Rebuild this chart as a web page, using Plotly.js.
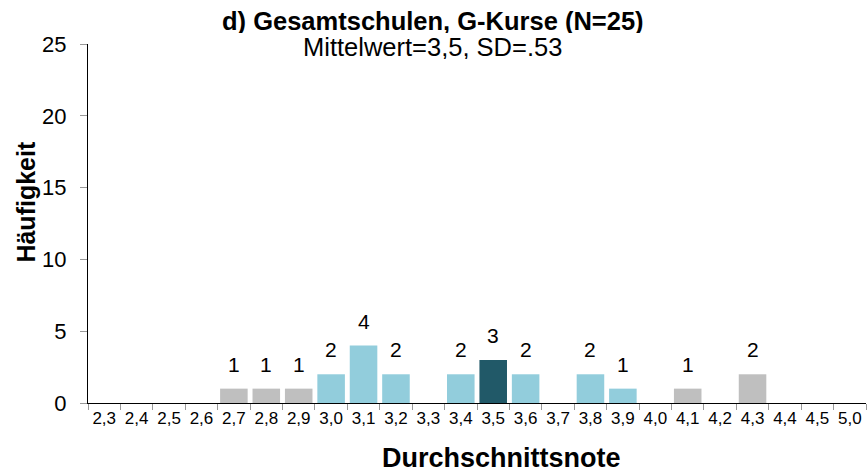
<!DOCTYPE html>
<html><head><meta charset="utf-8">
<script src="https://cdn.plot.ly/plotly-3.0.1.min.js"></script>
<style>body{margin:0;background:#fff}#c{width:868px;height:473px}</style>
</head><body><div id="c"></div>
<script>
var categories = ["2,3","2,4","2,5","2,6","2,7","2,8","2,9","3,0","3,1","3,2","3,3","3,4","3,5","3,6","3,7","3,8","3,9","4,0","4,1","4,2","4,3","4,4","4,5","5,0"];
var counts     = [null,null,null,null,1,1,1,2,4,2,null,2,3,2,null,2,1,null,1,null,2,null,null,null];
var groups     = ["g","g","g","g","g","g","g","b","b","b","b","b","d","b","b","b","b","g","g","g","g","g","g","g"];
var groupColors = {g:"#BFBFBF", b:"#92CDDC", d:"#215968"};
var yTicks = [0,5,10,15,20,25];

var colors = groups.map(function(g){return groupColors[g];});
var annotations = [];
categories.forEach(function(c,i){
  if(counts[i]!==null){
    annotations.push({x:c, y:counts[i], xref:"x", yref:"y", text:String(counts[i]),
      showarrow:false, yanchor:"bottom", yshift:11, font:{family:"Arial", size:21, color:"#000"}});
  }
});
annotations.push({x:-0.0797, y:0.561, xref:"paper", yref:"paper", text:"<b>Häufigkeit</b>", textangle:-90,
  showarrow:false, xanchor:"center", yanchor:"middle", font:{family:"Arial", size:25, color:"#000"}});
annotations.push({x:0.4434, y:1.0641, xref:"paper", yref:"paper", text:"<b>d) Gesamtschulen, G-Kurse (N=25)</b>",
  showarrow:false, xanchor:"center", yanchor:"middle", height:24, valign:"middle", font:{family:"Arial", size:25.5, color:"#000"}});
annotations.push({x:0.4434, y:0.9916, xref:"paper", yref:"paper", text:"Mittelwert=3,5, SD=.53",
  showarrow:false, xanchor:"center", yanchor:"middle", height:24, valign:"middle", font:{family:"Arial", size:25.5, color:"#000"}});
annotations.push({x:0.532, y:-0.1532, xref:"paper", yref:"paper", text:"<b>Durchschnittsnote</b>",
  showarrow:false, xanchor:"center", yanchor:"middle", height:26, valign:"middle", font:{family:"Arial", size:27, color:"#000"}});

var trace = {type:"bar", x:categories, y:counts, marker:{color:colors, line:{width:0}},
  hoverinfo:"skip"};

var layout = {
  width:868, height:473,
  margin:{l:88, r:2, t:44, b:70},
  paper_bgcolor:"#fff", plot_bgcolor:"#fff",
  bargap:0.15,
  showlegend:false,
  xaxis:{type:"category", categoryorder:"array", categoryarray:categories, tickson:"boundaries",
    ticks:"outside", ticklen:6, tickcolor:"#999", tickwidth:1,
    showline:true, linecolor:"#000", linewidth:1, showgrid:false,
    tickfont:{family:"Arial", size:17, color:"#000"}, tickangle:0},
  yaxis:{range:[0,25], tickvals:yTicks, ticks:"outside", ticklen:7, tickcolor:"#999",
    showline:true, linecolor:"#000", linewidth:1, showgrid:false, zeroline:false,
    ticklabelstandoff:9,
    tickfont:{family:"Arial", size:22, color:"#000"}},
  annotations:annotations,
  font:{family:"Arial"}
};
Plotly.newPlot("c",[trace],layout,{displayModeBar:false, staticPlot:true});
</script></body></html>
